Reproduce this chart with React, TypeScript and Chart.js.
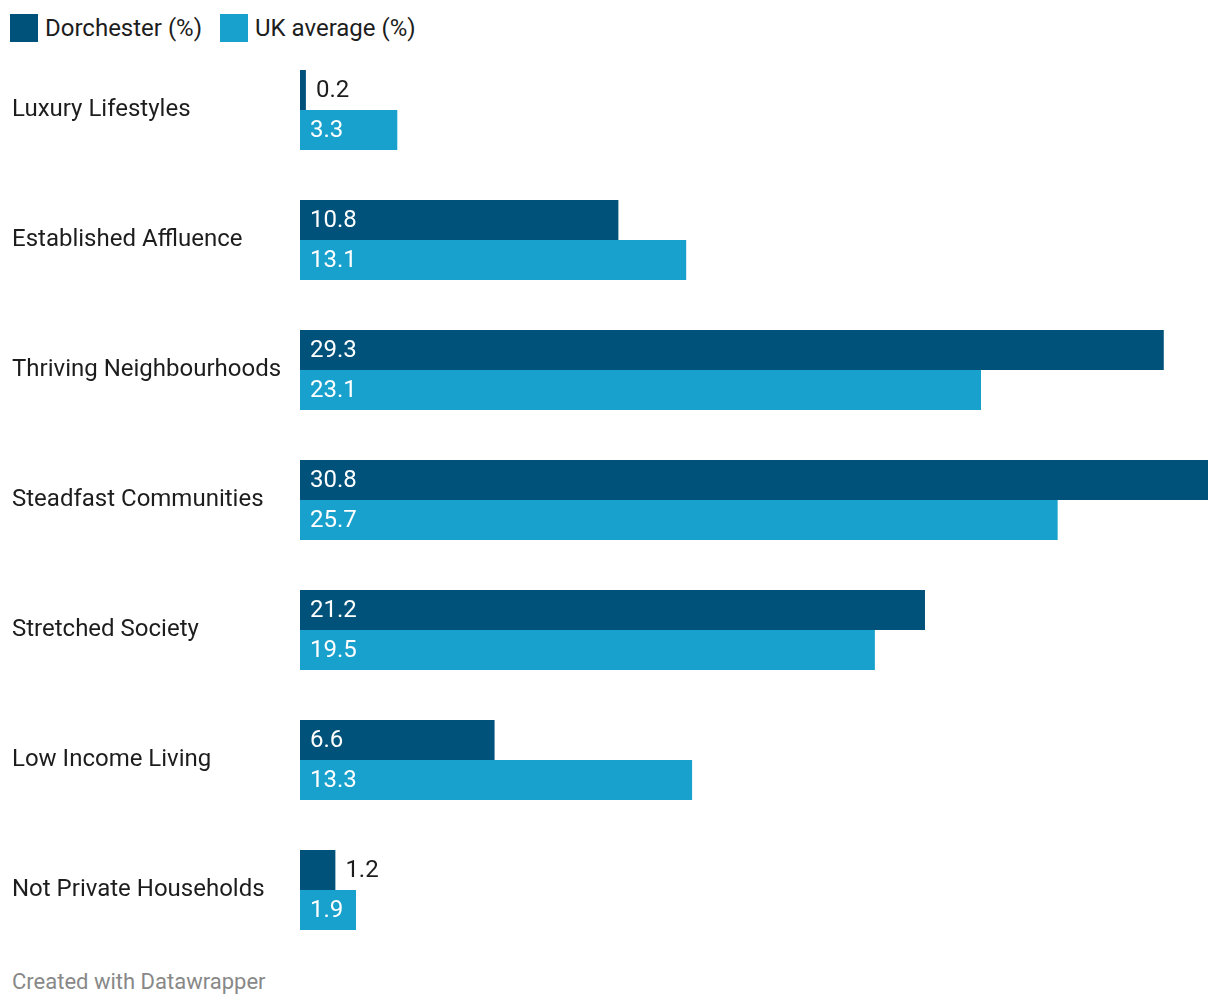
import React, { useEffect, useRef } from "react";
import { Chart, registerables } from "chart.js";

Chart.register(...registerables);

const categories = [
  "Luxury Lifestyles",
  "Established Affluence",
  "Thriving Neighbourhoods",
  "Steadfast Communities",
  "Stretched Society",
  "Low Income Living",
  "Not Private Households",
];
const dorchester = [0.2, 10.8, 29.3, 30.8, 21.2, 6.6, 1.2];
const ukAverage = [3.3, 13.1, 23.1, 25.7, 19.5, 13.3, 1.9];
const seriesNames = ["Dorchester (%)", "UK average (%)"];

const DARK = "#00527a";
const LIGHT = "#18a1cd";
const FONT = "Roboto, 'Noto Sans', sans-serif";

const valueLabels = {
  id: "valueLabels",
  afterDatasetsDraw(chart: any) {
    const ctx = chart.ctx;
    ctx.save();
    ctx.font = `400 24px ${FONT}`;
    ctx.textBaseline = "middle";
    ctx.textAlign = "left";
    chart.data.datasets.forEach((ds: any, di: number) => {
      const meta = chart.getDatasetMeta(di);
      meta.data.forEach((bar: any, i: number) => {
        const v = ds.data[i];
        const text = v.toFixed(1);
        const w = ctx.measureText(text).width;
        const barW = bar.x - bar.base;
        if (w + 20 <= barW) {
          ctx.fillStyle = "#ffffff";
          ctx.fillText(text, bar.base + 10, bar.y + 1);
        } else {
          ctx.fillStyle = "#1d1d1d";
          ctx.fillText(text, bar.x + 10, bar.y + 1);
        }
      });
    });
    ctx.restore();
  },
};

export default function App() {
  const canvasRef = useRef<HTMLCanvasElement>(null);

  useEffect(() => {
    if (!canvasRef.current) return;
    const chart = new Chart(canvasRef.current, {
      type: "bar",
      data: {
        labels: categories,
        datasets: [
          {
            label: seriesNames[0],
            data: dorchester,
            backgroundColor: DARK,
            categoryPercentage: 80 / 130,
            barPercentage: 1,
          },
          {
            label: seriesNames[1],
            data: ukAverage,
            backgroundColor: LIGHT,
            categoryPercentage: 80 / 130,
            barPercentage: 1,
          },
        ],
      },
      options: {
        indexAxis: "y",
        animation: false,
        responsive: true,
        maintainAspectRatio: false,
        layout: { padding: { left: 12, right: 12, top: 0, bottom: 0 } },
        plugins: {
          legend: { display: false },
          tooltip: { enabled: false },
        },
        scales: {
          x: {
            display: false,
            min: 0,
            max: 30.8,
            grid: { display: false },
          },
          y: {
            grid: { display: false },
            border: { display: false },
            afterFit: (scale: any) => {
              scale.width = 288;
              scale.paddingTop = 0;
              scale.paddingBottom = 0;
            },
            ticks: {
              crossAlign: "far",
              color: "#1d1d1d",
              font: { family: FONT, size: 24 },
            },
          },
        },
      },
      plugins: [valueLabels],
    });
    return () => chart.destroy();
  }, []);

  return (
    <div
      style={{
        position: "absolute",
        left: 0,
        top: 0,
        width: 1220,
        height: 1006,
        background: "#fff",
        fontFamily: FONT,
      }}
    >
      {[0, 1].map((i) => (
        <div
          key={i}
          style={{
            position: "absolute",
            top: 14,
            left: i === 0 ? 10 : 220,
            display: "flex",
            alignItems: "center",
            height: 28,
          }}
        >
          <div
            style={{
              width: 28,
              height: 28,
              background: i === 0 ? DARK : LIGHT,
              marginRight: 7,
            }}
          />
          <span style={{ fontSize: 24, color: "#1d1d1d", lineHeight: "28px" }}>
            {seriesNames[i]}
          </span>
        </div>
      ))}
      <div
        style={{
          position: "absolute",
          left: 0,
          top: 45,
          width: 1220,
          height: 910,
        }}
      >
        <canvas ref={canvasRef} />
      </div>
      <div
        style={{
          position: "absolute",
          left: 12,
          top: 968,
          fontSize: 22,
          lineHeight: "28px",
          color: "#888888",
        }}
      >
        Created with Datawrapper
      </div>
    </div>
  );
}
